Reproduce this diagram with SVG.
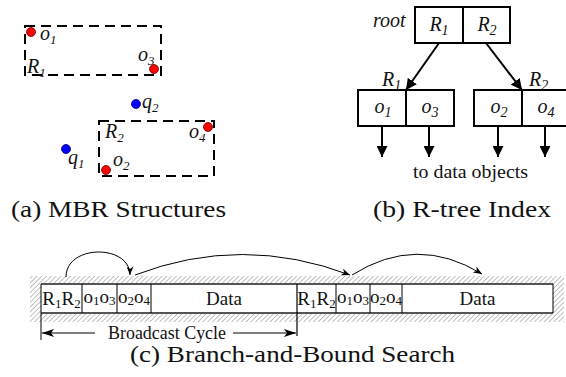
<svg xmlns="http://www.w3.org/2000/svg" width="566" height="377" viewBox="0 0 566 377">
<style>
.it{font-family:"Liberation Serif","Times New Roman",serif;font-style:italic;font-size:20px;fill:#111}
.rm{font-family:"Liberation Serif","Times New Roman",serif;font-size:19px;fill:#111}
.cap{font-family:"Liberation Serif","Times New Roman",serif;font-size:23px;fill:#111}
.dash{fill:none;stroke:#000;stroke-width:2;stroke-dasharray:10 6}
.red{fill:#f00;stroke:#600;stroke-width:0.8}
.blue{fill:#00f;stroke:#006;stroke-width:0.8}
.box{fill:#fff;stroke:#000;stroke-width:2}
.tl{stroke:#000;stroke-width:2;fill:none}
.cell{stroke:#000;stroke-width:1}
.arc{fill:none;stroke:#000;stroke-width:1}
</style>
<defs>
<marker id="tri" viewBox="0 0 10 10" refX="10" refY="5" markerWidth="11" markerHeight="11" markerUnits="userSpaceOnUse" orient="auto">
<path d="M0,0 L10,5 L0,10 z" fill="#000"/>
</marker>
<marker id="sm" viewBox="0 0 10 8" refX="10" refY="4" markerWidth="9" markerHeight="7" markerUnits="userSpaceOnUse" orient="auto">
<path d="M0,0 L10,4 L0,8 L3,4 z" fill="#000"/>
</marker>
<marker id="st" viewBox="0 0 12 8" refX="12" refY="4" markerWidth="12" markerHeight="8" markerUnits="userSpaceOnUse" orient="auto">
<path d="M0,0 L12,4 L0,8 L3,4 z" fill="#000"/>
</marker>
<pattern id="hatch" patternUnits="userSpaceOnUse" width="3.4" height="3.4" patternTransform="rotate(45)">
<line x1="0" y1="0" x2="0" y2="3.4" stroke="#777" stroke-width="0.9"/>
</pattern>
</defs>

<!-- (a) MBR structures -->
<g id="mbr-R1">
<rect class="dash" x="25" y="26" width="136" height="49"/>
<text class="it" x="27" y="73">R<tspan font-size="13" dy="4">1</tspan></text>
</g>
<g id="mbr-R2">
<rect class="dash" x="99" y="121" width="115" height="55"/>
<text class="it" x="105" y="138">R<tspan font-size="13" dy="4">2</tspan></text>
</g>
<g id="pt-o1"><circle class="red" cx="31" cy="32" r="4.5"/><text class="it" x="40" y="40">o<tspan font-size="13" dy="4">1</tspan></text></g>
<g id="pt-o3"><circle class="red" cx="154" cy="69" r="4.5"/><text class="it" x="138" y="61">o<tspan font-size="13" dy="4">3</tspan></text></g>
<g id="pt-o4"><circle class="red" cx="208" cy="127" r="4.5"/><text class="it" x="189" y="138">o<tspan font-size="13" dy="4">4</tspan></text></g>
<g id="pt-o2"><circle class="red" cx="106" cy="170" r="4.5"/><text class="it" x="113" y="166">o<tspan font-size="13" dy="4">2</tspan></text></g>
<g id="pt-q2"><circle class="blue" cx="136" cy="104" r="4.5"/><text class="it" x="142" y="108">q<tspan font-size="13" dy="4">2</tspan></text></g>
<g id="pt-q1"><circle class="blue" cx="66" cy="149" r="4.5"/><text class="it" x="68" y="164">q<tspan font-size="13" dy="4">1</tspan></text></g>
<text class="cap" x="11" y="217" textLength="215" lengthAdjust="spacingAndGlyphs">(a) MBR Structures</text>

<!-- (b) R-tree index -->
<g id="node-root">
<text class="it" x="373" y="27">root</text>
<rect class="box" x="415" y="7" width="95" height="36"/>
<line class="tl" x1="463" y1="7" x2="463" y2="43"/>
<text class="it" x="439" y="31" text-anchor="middle" font-size="21">R<tspan font-size="14" dy="4">1</tspan></text>
<text class="it" x="487" y="31" text-anchor="middle" font-size="21">R<tspan font-size="14" dy="4">2</tspan></text>
</g>
<g id="node-R1">
<text class="it" x="382" y="86" font-size="21">R<tspan font-size="14" dy="4">1</tspan></text>
<rect class="box" x="358" y="90" width="96" height="36"/>
<line class="tl" x1="406" y1="90" x2="406" y2="126"/>
<text class="it" x="383" y="113" text-anchor="middle" font-size="21">o<tspan font-size="14" dy="4">1</tspan></text>
<text class="it" x="430" y="113" text-anchor="middle" font-size="21">o<tspan font-size="14" dy="4">3</tspan></text>
</g>
<g id="node-R2">
<text class="it" x="529" y="86" font-size="21">R<tspan font-size="14" dy="4">2</tspan></text>
<rect class="box" x="474" y="90" width="96" height="36"/>
<line class="tl" x1="522" y1="90" x2="522" y2="126"/>
<text class="it" x="499" y="113" text-anchor="middle" font-size="21">o<tspan font-size="14" dy="4">2</tspan></text>
<text class="it" x="546" y="113" text-anchor="middle" font-size="21">o<tspan font-size="14" dy="4">4</tspan></text>
</g>
<g id="tree-edges">
<line class="tl" x1="439" y1="43" x2="406" y2="90" marker-end="url(#tri)"/>
<line class="tl" x1="486" y1="43" x2="522" y2="90" marker-end="url(#tri)"/>
<line class="tl" x1="382" y1="126" x2="382" y2="157" marker-end="url(#tri)"/>
<line class="tl" x1="429" y1="126" x2="429" y2="157" marker-end="url(#tri)"/>
<line class="tl" x1="498" y1="126" x2="498" y2="157" marker-end="url(#tri)"/>
<line class="tl" x1="545" y1="126" x2="545" y2="157" marker-end="url(#tri)"/>
</g>
<text class="rm" x="413" y="178" font-size="20" textLength="115" lengthAdjust="spacingAndGlyphs">to data objects</text>
<text class="cap" x="373" y="217" textLength="178" lengthAdjust="spacingAndGlyphs">(b) R-tree Index</text>

<!-- (c) Broadcast -->
<g id="channel">
<rect x="30" y="276" width="534" height="46" fill="url(#hatch)"/>
<rect x="41" y="284" width="512" height="29" fill="#fff"/>
<line x1="41" y1="284" x2="553" y2="284" stroke="#555" stroke-width="2"/>
<line x1="41" y1="313" x2="553" y2="313" stroke="#555" stroke-width="2"/>
<line class="cell" x1="41" y1="284" x2="41" y2="313"/>
<line class="cell" x1="553" y1="284" x2="553" y2="313"/>
</g>
<g id="cycle1">
<line class="cell" x1="82" y1="284" x2="82" y2="313"/>
<line class="cell" x1="117" y1="284" x2="117" y2="313"/>
<line class="cell" x1="151" y1="284" x2="151" y2="313"/>
<text class="rm" x="61.5" y="305" text-anchor="middle" font-size="20">R<tspan font-size="13" dy="3">1</tspan><tspan dy="-3">R</tspan><tspan font-size="13" dy="3">2</tspan></text>
<text class="rm" x="99.5" y="303" text-anchor="middle">o<tspan font-size="13" dy="2">1</tspan><tspan dy="-2">o</tspan><tspan font-size="13" dy="2">3</tspan></text>
<text class="rm" x="134" y="303" text-anchor="middle">o<tspan font-size="13" dy="2">2</tspan><tspan dy="-2">o</tspan><tspan font-size="13" dy="2">4</tspan></text>
<text class="rm" x="224" y="305" text-anchor="middle" font-size="20">Data</text>
</g>
<g id="cycle2">
<line x1="297" y1="284" x2="297" y2="336" stroke="#000" stroke-width="1.2"/>
<line class="cell" x1="336" y1="284" x2="336" y2="313"/>
<line class="cell" x1="370" y1="284" x2="370" y2="313"/>
<line class="cell" x1="402" y1="284" x2="402" y2="313"/>
<text class="rm" x="316.5" y="305" text-anchor="middle" font-size="20">R<tspan font-size="13" dy="3">1</tspan><tspan dy="-3">R</tspan><tspan font-size="13" dy="3">2</tspan></text>
<text class="rm" x="353" y="303" text-anchor="middle">o<tspan font-size="13" dy="2">1</tspan><tspan dy="-2">o</tspan><tspan font-size="13" dy="2">3</tspan></text>
<text class="rm" x="386" y="303" text-anchor="middle">o<tspan font-size="13" dy="2">2</tspan><tspan dy="-2">o</tspan><tspan font-size="13" dy="2">4</tspan></text>
<text class="rm" x="477.5" y="305" text-anchor="middle" font-size="20">Data</text>
</g>
<g id="search-arcs">
<path class="arc" d="M66,277 C66,244 130,244 130,275" marker-end="url(#sm)"/>
<path class="arc" d="M135,275 Q242,234 350,275" marker-end="url(#sm)"/>
<path class="arc" d="M352,275 Q417,234 482,274" marker-end="url(#sm)"/>
</g>
<g id="broadcast-cycle">
<line class="cell" x1="41" y1="313" x2="41" y2="340"/>
<line class="cell" x1="95" y1="333" x2="42" y2="333" marker-end="url(#st)"/>
<line class="cell" x1="233" y1="333" x2="296" y2="333" marker-end="url(#st)"/>
<text class="rm" x="108" y="339" font-size="18" textLength="118" lengthAdjust="spacingAndGlyphs">Broadcast Cycle</text>
</g>
<text class="cap" x="130" y="362" textLength="325" lengthAdjust="spacingAndGlyphs">(c) Branch-and-Bound Search</text>
</svg>
